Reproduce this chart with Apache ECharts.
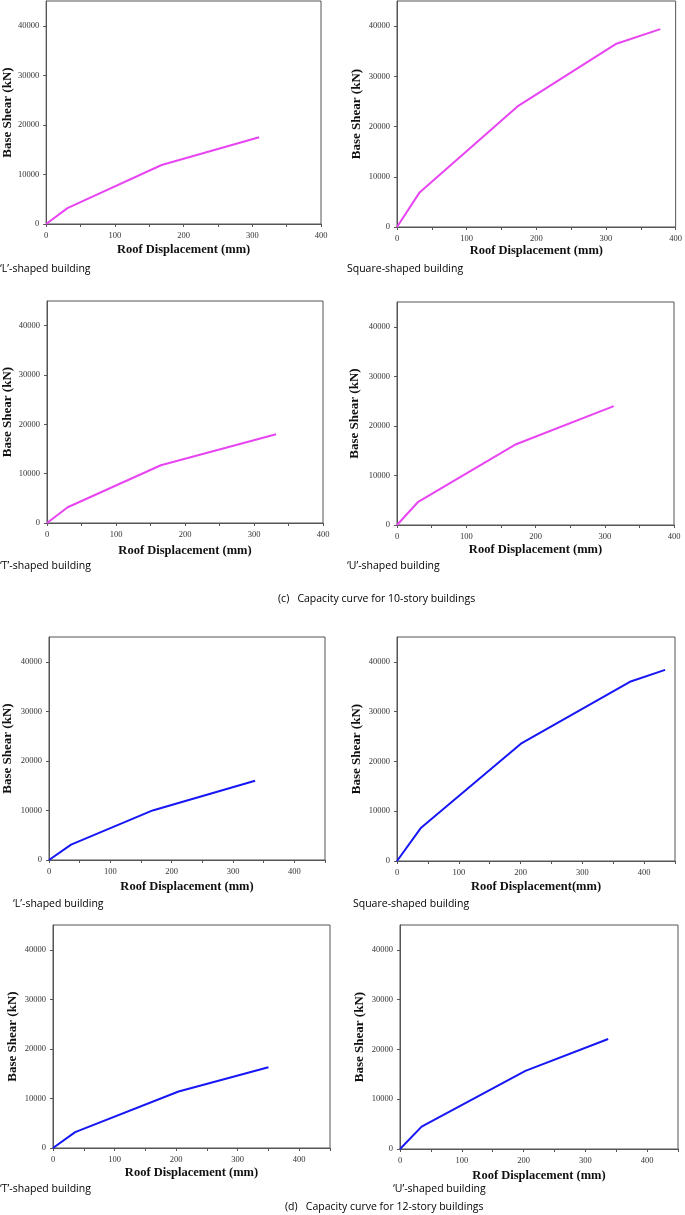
<!DOCTYPE html>
<html>
<head>
<meta charset="utf-8">
<script src="https://cdn.jsdelivr.net/npm/echarts@6/dist/echarts.min.js"></script>
<style>
html,body{margin:0;padding:0;background:#fff;}
#c{width:685px;height:1215px;}
</style>
</head>
<body>
<div id="c"></div>
<script>
// ---- data ----
const yTickLabels = ['0', '10000', '20000', '30000', '40000'];
const xTickLabels10 = ['0', '100', '200', '300', '400'];
const xTickLabels12 = ['0', '100', '200', '300', '400'];

const disp10L = [0, 31, 168, 310];
const shear10L = [0, 3200, 11900, 17500];
const disp10Sq = [0, 32, 173, 315, 378];
const shear10Sq = [0, 6800, 24000, 36500, 39400];
const disp10T = [0, 30, 165, 332];
const shear10T = [0, 3200, 11700, 18000];
const disp10U = [0, 30, 172, 313];
const shear10U = [0, 4600, 16300, 24000];

const disp12L = [0, 36, 169, 336];
const shear12L = [0, 3100, 10000, 16000];
const disp12Sq = [0, 39, 202, 377, 434];
const shear12Sq = [0, 6700, 23700, 36000, 38400];
const disp12T = [0, 36, 204, 350];
const shear12T = [0, 3200, 11400, 16300];
const disp12U = [0, 35, 203, 337];
const shear12U = [0, 4500, 15700, 22100];

const captions = ['\u2018L\u2019-shaped building', 'Square-shaped building', '\u2018T\u2019-shaped building', '\u2018U\u2019-shaped building'];
const groupCaption10 = '(c)   Capacity curve for 10-story buildings';
const groupCaption12 = '(d)   Capacity curve for 12-story buildings';
const yName = 'Base Shear (kN)';
const xName = 'Roof Displacement (mm)';
const xNameSq12 = 'Roof Displacement(mm)';

const magenta = '#E845F2';
const blue = '#1717F5';

// ---- layout ----
const panels = [
  {x: disp10L,  y: shear10L,  xmax: 400, color: magenta, g: {left: 43,  top: 1,   width: 278, height: 223}, yGap: 30, xGap: 19, xn: xName},
  {x: disp10Sq, y: shear10Sq, xmax: 400, color: magenta, g: {left: 397, top: 1,   width: 282, height: 226}, yGap: 34, xGap: 16, xn: xName},
  {x: disp10T,  y: shear10T,  xmax: 400, color: magenta, g: {left: 46,  top: 301, width: 277, height: 222}, yGap: 33, xGap: 21, xn: xName},
  {x: disp10U,  y: shear10U,  xmax: 400, color: magenta, g: {left: 397, top: 302, width: 277, height: 223}, yGap: 36, xGap: 18, xn: xName},
  {x: disp12L,  y: shear12L,  xmax: 450, color: blue,    g: {left: 49,  top: 637, width: 276, height: 223}, yGap: 35, xGap: 20, xn: xName},
  {x: disp12Sq, y: shear12Sq, xmax: 450, color: blue,    g: {left: 397, top: 637, width: 278, height: 224}, yGap: 34, xGap: 19, xn: xNameSq12},
  {x: disp12T,  y: shear12T,  xmax: 450, color: blue,    g: {left: 53,  top: 925, width: 277, height: 223}, yGap: 34, xGap: 18, xn: xName},
  {x: disp12U,  y: shear12U,  xmax: 450, color: blue,    g: {left: 400, top: 925, width: 278, height: 224}, yGap: 34, xGap: 20, xn: xName}
];

const serif = '"Liberation Serif", "Times New Roman", serif';
const sans = '"Open Sans", "Noto Sans", sans-serif';
const axisCol = '#555';

const grid = [], xAxis = [], yAxis = [], series = [];
panels.forEach((p, i) => {
  grid.push(Object.assign({show: true, borderColor: axisCol, borderWidth: 1, containLabel: false}, p.g));
  xAxis.push({
    type: 'value', gridIndex: i, min: 0, max: p.xmax, interval: 100,
    name: p.xn, nameLocation: 'middle', nameGap: p.xGap,
    nameTextStyle: {fontFamily: serif, fontWeight: 'bold', fontSize: 12.5, color: '#111'},
    axisLine: {show: true, onZero: false, lineStyle: {color: axisCol, width: 1}},
    axisTick: {show: true, inside: false, length: 3, lineStyle: {color: axisCol}},
    minorTick: {show: true, splitNumber: 2, length: 3, lineStyle: {color: axisCol}},
    splitLine: {show: false},
    axisLabel: {show: true, margin: 7, fontFamily: serif, fontSize: 8.5, color: '#333', showMaxLabel: p.xmax === 400,
      formatter: v => (p.xmax === 400 ? xTickLabels10 : xTickLabels12)[Math.round(v / 100)] || ''}
  });
  yAxis.push({
    type: 'value', gridIndex: i, min: 0, max: 45000, interval: 10000,
    name: yName, nameLocation: 'middle', nameGap: p.yGap, nameRotate: 90,
    nameTextStyle: {fontFamily: serif, fontWeight: 'bold', fontSize: 13, color: '#111'},
    axisLine: {show: true, onZero: false, lineStyle: {color: axisCol, width: 1}},
    axisTick: {show: true, inside: false, length: 3, lineStyle: {color: axisCol}},
    splitLine: {show: false},
    axisLabel: {show: true, margin: 7, fontFamily: serif, fontSize: 8.5, color: '#333', showMaxLabel: false,
      formatter: v => yTickLabels[Math.round(v / 10000)] || ''}
  });
  series.push({
    type: 'line', xAxisIndex: i, yAxisIndex: i, showSymbol: false, symbol: 'none',
    lineStyle: {color: p.color, width: 2}, silent: true, animation: false,
    data: p.x.map((d, k) => [d, p.y[k]])
  });
});

const capStyle = {fontFamily: sans, fontSize: 10.5, color: '#222'};
const capPos = [
  [0, 264], [347, 264], [0, 561], [347, 561],
  [13, 899], [353, 899], [0, 1184], [393, 1184]
];
const graphic = capPos.map((pos, i) => ({
  type: 'text', left: pos[0], top: pos[1],
  style: Object.assign({text: captions[i % 4]}, capStyle)
}));
graphic.push({type: 'text', left: 278, top: 594, style: Object.assign({text: groupCaption10}, capStyle)});
graphic.push({type: 'text', left: 285, top: 1202, style: Object.assign({text: groupCaption12}, capStyle)});

const chart = echarts.init(document.getElementById('c'), null, {renderer: 'canvas'});
chart.setOption({
  animation: false,
  backgroundColor: '#fff',
  grid, xAxis, yAxis, series, graphic
});
</script>
</body>
</html>
